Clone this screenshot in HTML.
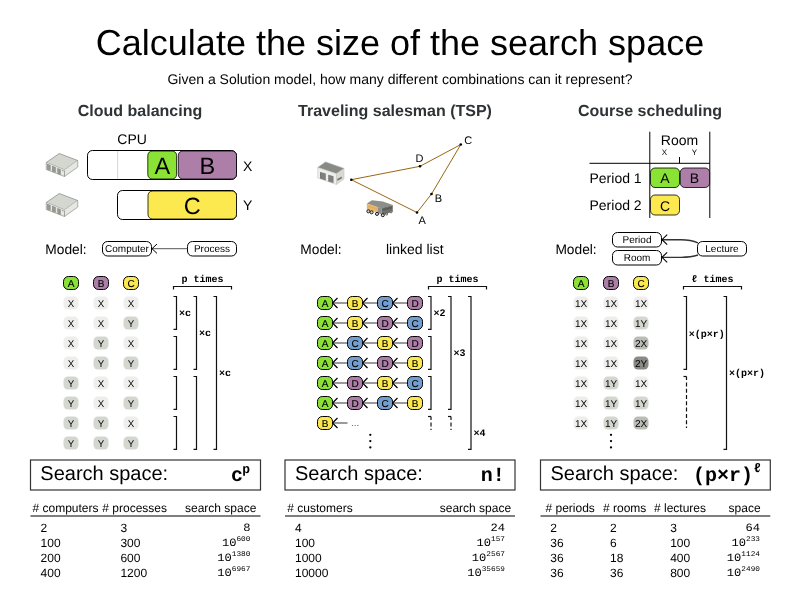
<!DOCTYPE html>
<html><head><meta charset="utf-8"><title>Search space</title>
<style>
html,body{margin:0;padding:0;background:#fff;width:800px;height:600px;overflow:hidden;font-family:"Liberation Sans",sans-serif;}
svg{display:block;position:absolute;left:0;top:0;will-change:transform;text-rendering:geometricPrecision;}
</style></head><body>
<svg width="800" height="600" viewBox="0 0 800 600">
<rect width="800" height="600" fill="#fff"/>
<text x="400" y="55.3" text-anchor="middle" font-family="&quot;Liberation Sans&quot;, sans-serif" font-size="36" fill="#000">Calculate the size of the search space</text>
<text x="400" y="84" text-anchor="middle" font-family="&quot;Liberation Sans&quot;, sans-serif" font-size="14" fill="#000">Given a Solution model, how many different combinations can it represent?</text>
<text x="140" y="115.5" text-anchor="middle" font-family="&quot;Liberation Sans&quot;, sans-serif" font-size="16" font-weight="bold" fill="#2e3436">Cloud balancing</text>
<text x="395" y="115.5" text-anchor="middle" font-family="&quot;Liberation Sans&quot;, sans-serif" font-size="16" font-weight="bold" fill="#2e3436">Traveling salesman (TSP)</text>
<text x="650" y="115.5" text-anchor="middle" font-family="&quot;Liberation Sans&quot;, sans-serif" font-size="16" font-weight="bold" fill="#2e3436">Course scheduling</text>
<text x="132.1" y="143.6" text-anchor="middle" font-family="&quot;Liberation Sans&quot;, sans-serif" font-size="14" fill="#000">CPU</text>
<g transform="translate(46,153)"><path d="M0.25,9.5 L13.25,0.5 L31.75,7.5 L18.5,17 Z" fill="#d3d7cf" stroke="#8f918c" stroke-width="0.8" stroke-linejoin="round"/><path d="M0.25,9.5 L18.5,17 L18.5,23.5 L0.25,16.5 Z" fill="#e4e6e1" stroke="#8f918c" stroke-width="0.7"/><path d="M1.25,10.51095890410959 L4.75,11.949315068493151 L4.75,17.94931506849315 L1.25,16.51095890410959 Z" fill="#a3a69f"/><path d="M1.65,10.91095890410959 L1.65,16.71095890410959 M3.15,11.51095890410959 L3.15,17.31095890410959" stroke="#7d7f7a" stroke-width="0.6"/><path d="M6.25,12.565753424657535 L10.0,14.106849315068493 L10.0,20.106849315068494 L6.25,18.565753424657537 Z" fill="#a3a69f"/><path d="M6.65,12.965753424657535 L6.65,18.765753424657536 M8.15,13.565753424657535 L8.15,19.365753424657534" stroke="#7d7f7a" stroke-width="0.6"/><path d="M11.5,14.723287671232876 L15.0,16.161643835616438 L15.0,22.161643835616438 L11.5,20.723287671232875 Z" fill="#a3a69f"/><path d="M11.9,15.123287671232877 L11.9,20.923287671232877 M13.4,15.723287671232876 L13.4,21.52328767123288" stroke="#7d7f7a" stroke-width="0.6"/><path d="M16.2,17.4 L17.6,17.9" stroke="#6f716c" stroke-width="0.8"/><path d="M18.5,17 L31.75,7.5 L31.75,14 L18.5,23.5 Z" fill="#e6e8e3" stroke="#8f918c" stroke-width="0.7" stroke-linejoin="round"/><path d="M0.9,10 L18.5,17.3 L31.1,8.2" fill="none" stroke="#f6f6f4" stroke-width="0.6"/></g>
<g transform="translate(46,193)"><path d="M0.25,9.5 L13.25,0.5 L31.75,7.5 L18.5,17 Z" fill="#d3d7cf" stroke="#8f918c" stroke-width="0.8" stroke-linejoin="round"/><path d="M0.25,9.5 L18.5,17 L18.5,23.5 L0.25,16.5 Z" fill="#e4e6e1" stroke="#8f918c" stroke-width="0.7"/><path d="M1.25,10.51095890410959 L4.75,11.949315068493151 L4.75,17.94931506849315 L1.25,16.51095890410959 Z" fill="#a3a69f"/><path d="M1.65,10.91095890410959 L1.65,16.71095890410959 M3.15,11.51095890410959 L3.15,17.31095890410959" stroke="#7d7f7a" stroke-width="0.6"/><path d="M6.25,12.565753424657535 L10.0,14.106849315068493 L10.0,20.106849315068494 L6.25,18.565753424657537 Z" fill="#a3a69f"/><path d="M6.65,12.965753424657535 L6.65,18.765753424657536 M8.15,13.565753424657535 L8.15,19.365753424657534" stroke="#7d7f7a" stroke-width="0.6"/><path d="M11.5,14.723287671232876 L15.0,16.161643835616438 L15.0,22.161643835616438 L11.5,20.723287671232875 Z" fill="#a3a69f"/><path d="M11.9,15.123287671232877 L11.9,20.923287671232877 M13.4,15.723287671232876 L13.4,21.52328767123288" stroke="#7d7f7a" stroke-width="0.6"/><path d="M16.2,17.4 L17.6,17.9" stroke="#6f716c" stroke-width="0.8"/><path d="M18.5,17 L31.75,7.5 L31.75,14 L18.5,23.5 Z" fill="#e6e8e3" stroke="#8f918c" stroke-width="0.7" stroke-linejoin="round"/><path d="M0.9,10 L18.5,17.3 L31.1,8.2" fill="none" stroke="#f6f6f4" stroke-width="0.6"/></g>
<rect x="87.5" y="150.5" width="149" height="29" rx="5" fill="#fff" stroke="#000" stroke-width="1"/>
<path d="M117.6,151 L117.6,179" stroke="#d3d7cf" stroke-width="1"/>
<rect x="147.8" y="151" width="28.8" height="28" rx="4.5" fill="#8ae234" stroke="#000" stroke-width="0.8"/>
<rect x="178.3" y="151" width="58.2" height="28" rx="4.5" fill="#ad7fa8" stroke="#000" stroke-width="0.8"/>
<text x="162.3" y="173.8" text-anchor="middle" font-family="&quot;Liberation Sans&quot;, sans-serif" font-size="23.5" fill="#000">A</text>
<text x="207.4" y="173.8" text-anchor="middle" font-family="&quot;Liberation Sans&quot;, sans-serif" font-size="23.5" fill="#000">B</text>
<text x="243" y="171" font-family="&quot;Liberation Sans&quot;, sans-serif" font-size="14" fill="#000">X</text>
<rect x="117.5" y="190.5" width="119" height="29" rx="5" fill="#fff" stroke="#000" stroke-width="1"/>
<rect x="148" y="191" width="88.5" height="28" rx="4.5" fill="#fce94f" stroke="#000" stroke-width="0.8"/>
<text x="192.3" y="213.8" text-anchor="middle" font-family="&quot;Liberation Sans&quot;, sans-serif" font-size="23.5" fill="#000">C</text>
<text x="243" y="210" font-family="&quot;Liberation Sans&quot;, sans-serif" font-size="14" fill="#000">Y</text>
<text x="45.3" y="253.9" font-family="&quot;Liberation Sans&quot;, sans-serif" font-size="13.75" fill="#000">Model:</text>
<rect x="102.5" y="241.5" width="49" height="14.5" rx="5" fill="#fff" stroke="#000" stroke-width="1"/><text x="127.0" y="252.35" text-anchor="middle" font-family="&quot;Liberation Sans&quot;, sans-serif" font-size="10" fill="#000">Computer</text>
<rect x="187.5" y="241.5" width="49" height="14.5" rx="5" fill="#fff" stroke="#000" stroke-width="1"/><text x="212.0" y="252.35" text-anchor="middle" font-family="&quot;Liberation Sans&quot;, sans-serif" font-size="10" fill="#000">Process</text>
<path d="M152,248.7 L187.5,248.7" stroke="#555" stroke-width="1"/>
<path d="M157,244 L152,248.7 L157,253.4" fill="none" stroke="#000" stroke-width="1"/>
<rect x="63.5" y="276.5" width="15" height="13" rx="5" fill="#8ae234" stroke="#000" stroke-width="1"/><text x="71" y="286.8" text-anchor="middle" font-family="&quot;Liberation Sans&quot;, sans-serif" font-size="10" fill="#000" stroke="#000" stroke-width="0.15">A</text>
<rect x="93.5" y="276.5" width="15" height="13" rx="5" fill="#ad7fa8" stroke="#000" stroke-width="1"/><text x="101" y="286.8" text-anchor="middle" font-family="&quot;Liberation Sans&quot;, sans-serif" font-size="10" fill="#000" stroke="#000" stroke-width="0.15">B</text>
<rect x="123.5" y="276.5" width="15" height="13" rx="5" fill="#fce94f" stroke="#000" stroke-width="1"/><text x="131" y="286.8" text-anchor="middle" font-family="&quot;Liberation Sans&quot;, sans-serif" font-size="10" fill="#000" stroke="#000" stroke-width="0.15">C</text>
<rect x="63.5" y="296.5" width="15" height="13" rx="4.5" fill="#eeeeec"/><text x="71" y="306.85" text-anchor="middle" font-family="&quot;Liberation Sans&quot;, sans-serif" font-size="9.7" fill="#000">X</text>
<rect x="93.5" y="296.5" width="15" height="13" rx="4.5" fill="#eeeeec"/><text x="101" y="306.85" text-anchor="middle" font-family="&quot;Liberation Sans&quot;, sans-serif" font-size="9.7" fill="#000">X</text>
<rect x="123.5" y="296.5" width="15" height="13" rx="4.5" fill="#eeeeec"/><text x="131" y="306.85" text-anchor="middle" font-family="&quot;Liberation Sans&quot;, sans-serif" font-size="9.7" fill="#000">X</text>
<rect x="63.5" y="316.5" width="15" height="13" rx="4.5" fill="#eeeeec"/><text x="71" y="326.85" text-anchor="middle" font-family="&quot;Liberation Sans&quot;, sans-serif" font-size="9.7" fill="#000">X</text>
<rect x="93.5" y="316.5" width="15" height="13" rx="4.5" fill="#eeeeec"/><text x="101" y="326.85" text-anchor="middle" font-family="&quot;Liberation Sans&quot;, sans-serif" font-size="9.7" fill="#000">X</text>
<rect x="123.5" y="316.5" width="15" height="13" rx="4.5" fill="#d3d7cf"/><text x="131" y="326.85" text-anchor="middle" font-family="&quot;Liberation Sans&quot;, sans-serif" font-size="9.7" fill="#000">Y</text>
<rect x="63.5" y="336.5" width="15" height="13" rx="4.5" fill="#eeeeec"/><text x="71" y="346.85" text-anchor="middle" font-family="&quot;Liberation Sans&quot;, sans-serif" font-size="9.7" fill="#000">X</text>
<rect x="93.5" y="336.5" width="15" height="13" rx="4.5" fill="#d3d7cf"/><text x="101" y="346.85" text-anchor="middle" font-family="&quot;Liberation Sans&quot;, sans-serif" font-size="9.7" fill="#000">Y</text>
<rect x="123.5" y="336.5" width="15" height="13" rx="4.5" fill="#eeeeec"/><text x="131" y="346.85" text-anchor="middle" font-family="&quot;Liberation Sans&quot;, sans-serif" font-size="9.7" fill="#000">X</text>
<rect x="63.5" y="356.5" width="15" height="13" rx="4.5" fill="#eeeeec"/><text x="71" y="366.85" text-anchor="middle" font-family="&quot;Liberation Sans&quot;, sans-serif" font-size="9.7" fill="#000">X</text>
<rect x="93.5" y="356.5" width="15" height="13" rx="4.5" fill="#d3d7cf"/><text x="101" y="366.85" text-anchor="middle" font-family="&quot;Liberation Sans&quot;, sans-serif" font-size="9.7" fill="#000">Y</text>
<rect x="123.5" y="356.5" width="15" height="13" rx="4.5" fill="#d3d7cf"/><text x="131" y="366.85" text-anchor="middle" font-family="&quot;Liberation Sans&quot;, sans-serif" font-size="9.7" fill="#000">Y</text>
<rect x="63.5" y="376.5" width="15" height="13" rx="4.5" fill="#d3d7cf"/><text x="71" y="386.85" text-anchor="middle" font-family="&quot;Liberation Sans&quot;, sans-serif" font-size="9.7" fill="#000">Y</text>
<rect x="93.5" y="376.5" width="15" height="13" rx="4.5" fill="#eeeeec"/><text x="101" y="386.85" text-anchor="middle" font-family="&quot;Liberation Sans&quot;, sans-serif" font-size="9.7" fill="#000">X</text>
<rect x="123.5" y="376.5" width="15" height="13" rx="4.5" fill="#eeeeec"/><text x="131" y="386.85" text-anchor="middle" font-family="&quot;Liberation Sans&quot;, sans-serif" font-size="9.7" fill="#000">X</text>
<rect x="63.5" y="396.5" width="15" height="13" rx="4.5" fill="#d3d7cf"/><text x="71" y="406.85" text-anchor="middle" font-family="&quot;Liberation Sans&quot;, sans-serif" font-size="9.7" fill="#000">Y</text>
<rect x="93.5" y="396.5" width="15" height="13" rx="4.5" fill="#eeeeec"/><text x="101" y="406.85" text-anchor="middle" font-family="&quot;Liberation Sans&quot;, sans-serif" font-size="9.7" fill="#000">X</text>
<rect x="123.5" y="396.5" width="15" height="13" rx="4.5" fill="#d3d7cf"/><text x="131" y="406.85" text-anchor="middle" font-family="&quot;Liberation Sans&quot;, sans-serif" font-size="9.7" fill="#000">Y</text>
<rect x="63.5" y="416.5" width="15" height="13" rx="4.5" fill="#d3d7cf"/><text x="71" y="426.85" text-anchor="middle" font-family="&quot;Liberation Sans&quot;, sans-serif" font-size="9.7" fill="#000">Y</text>
<rect x="93.5" y="416.5" width="15" height="13" rx="4.5" fill="#d3d7cf"/><text x="101" y="426.85" text-anchor="middle" font-family="&quot;Liberation Sans&quot;, sans-serif" font-size="9.7" fill="#000">Y</text>
<rect x="123.5" y="416.5" width="15" height="13" rx="4.5" fill="#eeeeec"/><text x="131" y="426.85" text-anchor="middle" font-family="&quot;Liberation Sans&quot;, sans-serif" font-size="9.7" fill="#000">X</text>
<rect x="63.5" y="436.5" width="15" height="13" rx="4.5" fill="#d3d7cf"/><text x="71" y="446.85" text-anchor="middle" font-family="&quot;Liberation Sans&quot;, sans-serif" font-size="9.7" fill="#000">Y</text>
<rect x="93.5" y="436.5" width="15" height="13" rx="4.5" fill="#d3d7cf"/><text x="101" y="446.85" text-anchor="middle" font-family="&quot;Liberation Sans&quot;, sans-serif" font-size="9.7" fill="#000">Y</text>
<rect x="123.5" y="436.5" width="15" height="13" rx="4.5" fill="#d3d7cf"/><text x="131" y="446.85" text-anchor="middle" font-family="&quot;Liberation Sans&quot;, sans-serif" font-size="9.7" fill="#000">Y</text>
<text x="202.5" y="282" text-anchor="middle" font-family="&quot;Liberation Mono&quot;, monospace" font-size="10" font-weight="bold" fill="#000">p times</text>
<path d="M173.5,289.5 L173.5,286.5 L231.5,286.5 L231.5,289.5" fill="none" stroke="#111" stroke-width="1.2"/>
<path d="M173.5,296.5 L176.5,296.5 L176.5,329.4 L173.5,329.4" fill="none" stroke="#111" stroke-width="1.2"/>
<path d="M173.5,336.5 L176.5,336.5 L176.5,369.4 L173.5,369.4" fill="none" stroke="#111" stroke-width="1.2"/>
<path d="M173.5,376.5 L176.5,376.5 L176.5,409.4 L173.5,409.4" fill="none" stroke="#111" stroke-width="1.2"/>
<path d="M173.5,416.5 L176.5,416.5 L176.5,449.4 L173.5,449.4" fill="none" stroke="#111" stroke-width="1.2"/>
<path d="M193.5,296.5 L196.5,296.5 L196.5,369.4 L193.5,369.4" fill="none" stroke="#111" stroke-width="1.2"/>
<path d="M193.5,376.5 L196.5,376.5 L196.5,449.4 L193.5,449.4" fill="none" stroke="#111" stroke-width="1.2"/>
<path d="M213.5,296.5 L216.5,296.5 L216.5,449.4 L213.5,449.4" fill="none" stroke="#111" stroke-width="1.2"/>
<text x="185" y="316" text-anchor="middle" font-family="&quot;Liberation Mono&quot;, monospace" font-size="10" font-weight="bold" fill="#000">×c</text>
<text x="205" y="336" text-anchor="middle" font-family="&quot;Liberation Mono&quot;, monospace" font-size="10" font-weight="bold" fill="#000">×c</text>
<text x="225" y="376" text-anchor="middle" font-family="&quot;Liberation Mono&quot;, monospace" font-size="10" font-weight="bold" fill="#000">×c</text>
<g transform="translate(317,162)"><path d="M0.75,5.5 L8.5,0 L27,6.5 L19.5,11.75 Z" fill="#888a85" stroke="#9fa29c" stroke-width="0.6" stroke-linejoin="round"/><path d="M0.75,5.5 L19.5,11.75 L19.5,22.5 L0.75,16 Z" fill="#eeeeec" stroke="#c4c7c0" stroke-width="0.6"/><path d="M19.5,11.75 L27,6.5 L27,17 L19.5,22.5 Z" fill="#d8dbd4" stroke="#c4c7c0" stroke-width="0.6"/><path d="M3,10 L8.75,11.5 L8.75,18.5 L3,16.5 Z" fill="#757772"/><path d="M11.25,12.75 L16.5,14.25 L16.5,21 L11.25,19.5 Z" fill="#757772"/><path d="M5,10.6 L5,17.2 M7,11.1 L7,17.9 M13.2,13.3 L13.2,20 M15,13.8 L15,20.5" stroke="#9a9c97" stroke-width="0.5"/><path d="M20.25,17 L24.75,14.5 L24.75,16.5 L20.25,18.75 Z" fill="#6f716c"/></g>
<g transform="translate(366,200)"><path d="M0.8,3.4 L6,0.2 L16.8,1.4 L26.8,5 L15.6,8.2 L11.6,7.2 Z" fill="#8d8f8a"/><path d="M0.8,3.6 L11.6,7 L11.6,12.6 L0.8,9.8 Z" fill="#eab76a"/><path d="M1.5,6 L11,8.8" stroke="#d9a75c" stroke-width="0.8"/><path d="M11.6,7 L15.6,8.1 L15.6,14.8 L11.6,12.6 Z" fill="#8d8f8a"/><path d="M15.6,8.1 L26.8,5 L26.8,11.6 L15.6,15.6 Z" fill="#6f716c"/><path d="M16.5,9 L26,6.4 L26,8.4 L16.5,11 Z" fill="#5a5c58"/><circle cx="2.4" cy="11.3" r="1.55" fill="#d3d7cf" stroke="#1e1e1e" stroke-width="1"/><circle cx="5.6" cy="12.3" r="1.55" fill="#d3d7cf" stroke="#1e1e1e" stroke-width="1"/><circle cx="11" cy="13.9" r="1.55" fill="#d3d7cf" stroke="#1e1e1e" stroke-width="1"/><circle cx="16.8" cy="15.2" r="1.55" fill="#d3d7cf" stroke="#1e1e1e" stroke-width="1"/><circle cx="20.6" cy="14" r="1.1" fill="#d3d7cf" stroke="#3a3a3a" stroke-width="0.7"/><circle cx="25" cy="11.8" r="1.1" fill="#d3d7cf" stroke="#3a3a3a" stroke-width="0.7"/></g>
<path d="M351.3,179.7 L420,166.3 L460.8,144.5 L431.5,194 L417,212.5 Z" fill="none" stroke="#9a6612" stroke-width="1"/>
<circle cx="351.3" cy="179.7" r="1.3" fill="#000"/>
<circle cx="420" cy="166.3" r="1.3" fill="#000"/>
<circle cx="460.8" cy="144.5" r="1.3" fill="#000"/>
<circle cx="431.5" cy="194" r="1.3" fill="#000"/>
<circle cx="417" cy="212.5" r="1.3" fill="#000"/>
<text x="464.2" y="144.4" font-family="&quot;Liberation Sans&quot;, sans-serif" font-size="11" fill="#000">C</text>
<text x="415.5" y="162" font-family="&quot;Liberation Sans&quot;, sans-serif" font-size="11" fill="#000">D</text>
<text x="434.8" y="201.5" font-family="&quot;Liberation Sans&quot;, sans-serif" font-size="11" fill="#000">B</text>
<text x="418.5" y="224" font-family="&quot;Liberation Sans&quot;, sans-serif" font-size="11" fill="#000">A</text>
<text x="300.3" y="253.9" font-family="&quot;Liberation Sans&quot;, sans-serif" font-size="13.75" fill="#000">Model:</text>
<text x="386" y="254" font-family="&quot;Liberation Sans&quot;, sans-serif" font-size="14" fill="#000">linked list</text>
<path d="M332.5,303 L347.5,303" stroke="#808080" stroke-width="1.6"/><path d="M337.5,298 L332.5,303 L337.5,308" fill="none" stroke="#000" stroke-width="1.2"/>
<path d="M362.5,303 L377.5,303" stroke="#808080" stroke-width="1.6"/><path d="M367.5,298 L362.5,303 L367.5,308" fill="none" stroke="#000" stroke-width="1.2"/>
<path d="M392.5,303 L407.5,303" stroke="#808080" stroke-width="1.6"/><path d="M397.5,298 L392.5,303 L397.5,308" fill="none" stroke="#000" stroke-width="1.2"/>
<rect x="317.5" y="296.5" width="15" height="13" rx="4.8" fill="#8ae234" stroke="#000" stroke-width="1"/><text x="325" y="306.8" text-anchor="middle" font-family="&quot;Liberation Sans&quot;, sans-serif" font-size="10" fill="#000" stroke="#000" stroke-width="0.15">A</text>
<rect x="347.5" y="296.5" width="15" height="13" rx="4.8" fill="#fce94f" stroke="#000" stroke-width="1"/><text x="355" y="306.8" text-anchor="middle" font-family="&quot;Liberation Sans&quot;, sans-serif" font-size="10" fill="#000" stroke="#000" stroke-width="0.15">B</text>
<rect x="377.5" y="296.5" width="15" height="13" rx="4.8" fill="#729fcf" stroke="#000" stroke-width="1"/><text x="385" y="306.8" text-anchor="middle" font-family="&quot;Liberation Sans&quot;, sans-serif" font-size="10" fill="#000" stroke="#000" stroke-width="0.15">C</text>
<rect x="407.5" y="296.5" width="15" height="13" rx="4.8" fill="#ad7fa8" stroke="#000" stroke-width="1"/><text x="415" y="306.8" text-anchor="middle" font-family="&quot;Liberation Sans&quot;, sans-serif" font-size="10" fill="#000" stroke="#000" stroke-width="0.15">D</text>
<path d="M332.5,323 L347.5,323" stroke="#808080" stroke-width="1.6"/><path d="M337.5,318 L332.5,323 L337.5,328" fill="none" stroke="#000" stroke-width="1.2"/>
<path d="M362.5,323 L377.5,323" stroke="#808080" stroke-width="1.6"/><path d="M367.5,318 L362.5,323 L367.5,328" fill="none" stroke="#000" stroke-width="1.2"/>
<path d="M392.5,323 L407.5,323" stroke="#808080" stroke-width="1.6"/><path d="M397.5,318 L392.5,323 L397.5,328" fill="none" stroke="#000" stroke-width="1.2"/>
<rect x="317.5" y="316.5" width="15" height="13" rx="4.8" fill="#8ae234" stroke="#000" stroke-width="1"/><text x="325" y="326.8" text-anchor="middle" font-family="&quot;Liberation Sans&quot;, sans-serif" font-size="10" fill="#000" stroke="#000" stroke-width="0.15">A</text>
<rect x="347.5" y="316.5" width="15" height="13" rx="4.8" fill="#fce94f" stroke="#000" stroke-width="1"/><text x="355" y="326.8" text-anchor="middle" font-family="&quot;Liberation Sans&quot;, sans-serif" font-size="10" fill="#000" stroke="#000" stroke-width="0.15">B</text>
<rect x="377.5" y="316.5" width="15" height="13" rx="4.8" fill="#ad7fa8" stroke="#000" stroke-width="1"/><text x="385" y="326.8" text-anchor="middle" font-family="&quot;Liberation Sans&quot;, sans-serif" font-size="10" fill="#000" stroke="#000" stroke-width="0.15">D</text>
<rect x="407.5" y="316.5" width="15" height="13" rx="4.8" fill="#729fcf" stroke="#000" stroke-width="1"/><text x="415" y="326.8" text-anchor="middle" font-family="&quot;Liberation Sans&quot;, sans-serif" font-size="10" fill="#000" stroke="#000" stroke-width="0.15">C</text>
<path d="M332.5,343 L347.5,343" stroke="#808080" stroke-width="1.6"/><path d="M337.5,338 L332.5,343 L337.5,348" fill="none" stroke="#000" stroke-width="1.2"/>
<path d="M362.5,343 L377.5,343" stroke="#808080" stroke-width="1.6"/><path d="M367.5,338 L362.5,343 L367.5,348" fill="none" stroke="#000" stroke-width="1.2"/>
<path d="M392.5,343 L407.5,343" stroke="#808080" stroke-width="1.6"/><path d="M397.5,338 L392.5,343 L397.5,348" fill="none" stroke="#000" stroke-width="1.2"/>
<rect x="317.5" y="336.5" width="15" height="13" rx="4.8" fill="#8ae234" stroke="#000" stroke-width="1"/><text x="325" y="346.8" text-anchor="middle" font-family="&quot;Liberation Sans&quot;, sans-serif" font-size="10" fill="#000" stroke="#000" stroke-width="0.15">A</text>
<rect x="347.5" y="336.5" width="15" height="13" rx="4.8" fill="#729fcf" stroke="#000" stroke-width="1"/><text x="355" y="346.8" text-anchor="middle" font-family="&quot;Liberation Sans&quot;, sans-serif" font-size="10" fill="#000" stroke="#000" stroke-width="0.15">C</text>
<rect x="377.5" y="336.5" width="15" height="13" rx="4.8" fill="#fce94f" stroke="#000" stroke-width="1"/><text x="385" y="346.8" text-anchor="middle" font-family="&quot;Liberation Sans&quot;, sans-serif" font-size="10" fill="#000" stroke="#000" stroke-width="0.15">B</text>
<rect x="407.5" y="336.5" width="15" height="13" rx="4.8" fill="#ad7fa8" stroke="#000" stroke-width="1"/><text x="415" y="346.8" text-anchor="middle" font-family="&quot;Liberation Sans&quot;, sans-serif" font-size="10" fill="#000" stroke="#000" stroke-width="0.15">D</text>
<path d="M332.5,363 L347.5,363" stroke="#808080" stroke-width="1.6"/><path d="M337.5,358 L332.5,363 L337.5,368" fill="none" stroke="#000" stroke-width="1.2"/>
<path d="M362.5,363 L377.5,363" stroke="#808080" stroke-width="1.6"/><path d="M367.5,358 L362.5,363 L367.5,368" fill="none" stroke="#000" stroke-width="1.2"/>
<path d="M392.5,363 L407.5,363" stroke="#808080" stroke-width="1.6"/><path d="M397.5,358 L392.5,363 L397.5,368" fill="none" stroke="#000" stroke-width="1.2"/>
<rect x="317.5" y="356.5" width="15" height="13" rx="4.8" fill="#8ae234" stroke="#000" stroke-width="1"/><text x="325" y="366.8" text-anchor="middle" font-family="&quot;Liberation Sans&quot;, sans-serif" font-size="10" fill="#000" stroke="#000" stroke-width="0.15">A</text>
<rect x="347.5" y="356.5" width="15" height="13" rx="4.8" fill="#729fcf" stroke="#000" stroke-width="1"/><text x="355" y="366.8" text-anchor="middle" font-family="&quot;Liberation Sans&quot;, sans-serif" font-size="10" fill="#000" stroke="#000" stroke-width="0.15">C</text>
<rect x="377.5" y="356.5" width="15" height="13" rx="4.8" fill="#ad7fa8" stroke="#000" stroke-width="1"/><text x="385" y="366.8" text-anchor="middle" font-family="&quot;Liberation Sans&quot;, sans-serif" font-size="10" fill="#000" stroke="#000" stroke-width="0.15">D</text>
<rect x="407.5" y="356.5" width="15" height="13" rx="4.8" fill="#fce94f" stroke="#000" stroke-width="1"/><text x="415" y="366.8" text-anchor="middle" font-family="&quot;Liberation Sans&quot;, sans-serif" font-size="10" fill="#000" stroke="#000" stroke-width="0.15">B</text>
<path d="M332.5,383 L347.5,383" stroke="#808080" stroke-width="1.6"/><path d="M337.5,378 L332.5,383 L337.5,388" fill="none" stroke="#000" stroke-width="1.2"/>
<path d="M362.5,383 L377.5,383" stroke="#808080" stroke-width="1.6"/><path d="M367.5,378 L362.5,383 L367.5,388" fill="none" stroke="#000" stroke-width="1.2"/>
<path d="M392.5,383 L407.5,383" stroke="#808080" stroke-width="1.6"/><path d="M397.5,378 L392.5,383 L397.5,388" fill="none" stroke="#000" stroke-width="1.2"/>
<rect x="317.5" y="376.5" width="15" height="13" rx="4.8" fill="#8ae234" stroke="#000" stroke-width="1"/><text x="325" y="386.8" text-anchor="middle" font-family="&quot;Liberation Sans&quot;, sans-serif" font-size="10" fill="#000" stroke="#000" stroke-width="0.15">A</text>
<rect x="347.5" y="376.5" width="15" height="13" rx="4.8" fill="#ad7fa8" stroke="#000" stroke-width="1"/><text x="355" y="386.8" text-anchor="middle" font-family="&quot;Liberation Sans&quot;, sans-serif" font-size="10" fill="#000" stroke="#000" stroke-width="0.15">D</text>
<rect x="377.5" y="376.5" width="15" height="13" rx="4.8" fill="#fce94f" stroke="#000" stroke-width="1"/><text x="385" y="386.8" text-anchor="middle" font-family="&quot;Liberation Sans&quot;, sans-serif" font-size="10" fill="#000" stroke="#000" stroke-width="0.15">B</text>
<rect x="407.5" y="376.5" width="15" height="13" rx="4.8" fill="#729fcf" stroke="#000" stroke-width="1"/><text x="415" y="386.8" text-anchor="middle" font-family="&quot;Liberation Sans&quot;, sans-serif" font-size="10" fill="#000" stroke="#000" stroke-width="0.15">C</text>
<path d="M332.5,403 L347.5,403" stroke="#808080" stroke-width="1.6"/><path d="M337.5,398 L332.5,403 L337.5,408" fill="none" stroke="#000" stroke-width="1.2"/>
<path d="M362.5,403 L377.5,403" stroke="#808080" stroke-width="1.6"/><path d="M367.5,398 L362.5,403 L367.5,408" fill="none" stroke="#000" stroke-width="1.2"/>
<path d="M392.5,403 L407.5,403" stroke="#808080" stroke-width="1.6"/><path d="M397.5,398 L392.5,403 L397.5,408" fill="none" stroke="#000" stroke-width="1.2"/>
<rect x="317.5" y="396.5" width="15" height="13" rx="4.8" fill="#8ae234" stroke="#000" stroke-width="1"/><text x="325" y="406.8" text-anchor="middle" font-family="&quot;Liberation Sans&quot;, sans-serif" font-size="10" fill="#000" stroke="#000" stroke-width="0.15">A</text>
<rect x="347.5" y="396.5" width="15" height="13" rx="4.8" fill="#ad7fa8" stroke="#000" stroke-width="1"/><text x="355" y="406.8" text-anchor="middle" font-family="&quot;Liberation Sans&quot;, sans-serif" font-size="10" fill="#000" stroke="#000" stroke-width="0.15">D</text>
<rect x="377.5" y="396.5" width="15" height="13" rx="4.8" fill="#729fcf" stroke="#000" stroke-width="1"/><text x="385" y="406.8" text-anchor="middle" font-family="&quot;Liberation Sans&quot;, sans-serif" font-size="10" fill="#000" stroke="#000" stroke-width="0.15">C</text>
<rect x="407.5" y="396.5" width="15" height="13" rx="4.8" fill="#fce94f" stroke="#000" stroke-width="1"/><text x="415" y="406.8" text-anchor="middle" font-family="&quot;Liberation Sans&quot;, sans-serif" font-size="10" fill="#000" stroke="#000" stroke-width="0.15">B</text>
<path d="M332.5,423 L347.5,423" stroke="#808080" stroke-width="1.6"/><path d="M337.5,418 L332.5,423 L337.5,428" fill="none" stroke="#000" stroke-width="1.2"/>
<rect x="317.5" y="416.5" width="15" height="13" rx="4.8" fill="#fce94f" stroke="#000" stroke-width="1"/><text x="325" y="426.8" text-anchor="middle" font-family="&quot;Liberation Sans&quot;, sans-serif" font-size="10" fill="#000" stroke="#000" stroke-width="0.15">B</text>
<text x="355.2" y="426.4" text-anchor="middle" font-family="&quot;Liberation Sans&quot;, sans-serif" font-size="10" fill="#555">...</text>
<circle cx="370.3" cy="434.8" r="1.15" fill="#000"/>
<circle cx="370.3" cy="441.1" r="1.15" fill="#000"/>
<circle cx="370.3" cy="447.4" r="1.15" fill="#000"/>
<text x="457.5" y="282" text-anchor="middle" font-family="&quot;Liberation Mono&quot;, monospace" font-size="10" font-weight="bold" fill="#000">p times</text>
<path d="M428.5,289.5 L428.5,286.5 L486.5,286.5 L486.5,289.5" fill="none" stroke="#111" stroke-width="1.2"/>
<path d="M428,296.5 L431,296.5 L431,329.4 L428,329.4" fill="none" stroke="#111" stroke-width="1.2"/>
<path d="M428,336.5 L431,336.5 L431,369.4 L428,369.4" fill="none" stroke="#111" stroke-width="1.2"/>
<path d="M428,376.5 L431,376.5 L431,409.4 L428,409.4" fill="none" stroke="#111" stroke-width="1.2"/>
<path d="M428,416.5 L431,416.5" fill="none" stroke="#111" stroke-width="1.2"/><path d="M431,416.5 L431,430" fill="none" stroke="#111" stroke-width="1.2" stroke-dasharray="4,2.3" stroke-dashoffset="0.4"/>
<path d="M448,296.5 L451,296.5 L451,409.4 L448,409.4" fill="none" stroke="#111" stroke-width="1.2"/>
<path d="M448,416.5 L451,416.5" fill="none" stroke="#111" stroke-width="1.2"/><path d="M451,416.5 L451,430" fill="none" stroke="#111" stroke-width="1.2" stroke-dasharray="4,2.3" stroke-dashoffset="0.4"/>
<path d="M468,296.5 L471,296.5 L471,449.4 L468,449.4" fill="none" stroke="#111" stroke-width="1.2"/>
<text x="439.5" y="316" text-anchor="middle" font-family="&quot;Liberation Mono&quot;, monospace" font-size="10" font-weight="bold" fill="#000">×2</text>
<text x="459.5" y="356" text-anchor="middle" font-family="&quot;Liberation Mono&quot;, monospace" font-size="10" font-weight="bold" fill="#000">×3</text>
<text x="479.5" y="436" text-anchor="middle" font-family="&quot;Liberation Mono&quot;, monospace" font-size="10" font-weight="bold" fill="#000">×4</text>
<path d="M649.8,131.7 L649.8,218 M709.8,131.7 L709.8,218 M589.5,163.3 L709.8,163.3 M679.5,157 L679.5,163.3" stroke="#000" stroke-width="1" fill="none"/>
<text x="679.5" y="144.8" text-anchor="middle" font-family="&quot;Liberation Sans&quot;, sans-serif" font-size="14" fill="#000">Room</text>
<text x="664.5" y="154.6" text-anchor="middle" font-family="&quot;Liberation Sans&quot;, sans-serif" font-size="8" fill="#000">X</text>
<text x="694.5" y="154.6" text-anchor="middle" font-family="&quot;Liberation Sans&quot;, sans-serif" font-size="8" fill="#000">Y</text>
<rect x="650.5" y="168" width="29" height="19.5" rx="4.5" fill="#8ae234" stroke="#000" stroke-width="0.8"/>
<rect x="680.3" y="168" width="29.3" height="19.5" rx="4.5" fill="#ad7fa8" stroke="#000" stroke-width="0.8"/>
<rect x="650.5" y="195" width="29" height="20" rx="4.5" fill="#fce94f" stroke="#000" stroke-width="0.8"/>
<text x="665" y="183.3" text-anchor="middle" font-family="&quot;Liberation Sans&quot;, sans-serif" font-size="14" fill="#000">A</text>
<text x="694.5" y="183.3" text-anchor="middle" font-family="&quot;Liberation Sans&quot;, sans-serif" font-size="14" fill="#000">B</text>
<text x="665" y="210.7" text-anchor="middle" font-family="&quot;Liberation Sans&quot;, sans-serif" font-size="14" fill="#000">C</text>
<text x="589.5" y="183.3" font-family="&quot;Liberation Sans&quot;, sans-serif" font-size="14" fill="#000">Period 1</text>
<text x="589.5" y="210.4" font-family="&quot;Liberation Sans&quot;, sans-serif" font-size="14" fill="#000">Period 2</text>
<text x="555.4" y="253.9" font-family="&quot;Liberation Sans&quot;, sans-serif" font-size="13.75" fill="#000">Model:</text>
<rect x="612.5" y="232.5" width="49" height="14.5" rx="5" fill="#fff" stroke="#000" stroke-width="1"/><text x="637.0" y="243.35" text-anchor="middle" font-family="&quot;Liberation Sans&quot;, sans-serif" font-size="10" fill="#000">Period</text>
<rect x="612.5" y="250.5" width="49" height="14.5" rx="5" fill="#fff" stroke="#000" stroke-width="1"/><text x="637.0" y="261.35" text-anchor="middle" font-family="&quot;Liberation Sans&quot;, sans-serif" font-size="10" fill="#000">Room</text>
<rect x="697.5" y="241.5" width="49" height="14.5" rx="5" fill="#fff" stroke="#000" stroke-width="1"/><text x="722.0" y="252.35" text-anchor="middle" font-family="&quot;Liberation Sans&quot;, sans-serif" font-size="10" fill="#000">Lecture</text>
<path d="M698,242.8 C692,240.2 688,239.7 681,239.7 L662,239.7 M698,255 C692,257 688,257.3 681,257.3 L662,257.3" stroke="#333" stroke-width="1.35" fill="none"/>
<path d="M667.2,234.7 L662,239.7 L667.2,244.7 M667.2,252.3 L662,257.3 L667.2,262.3" fill="none" stroke="#000" stroke-width="1.1"/>
<rect x="573.5" y="276.5" width="15" height="13" rx="5" fill="#8ae234" stroke="#000" stroke-width="1"/><text x="581" y="286.8" text-anchor="middle" font-family="&quot;Liberation Sans&quot;, sans-serif" font-size="10" fill="#000" stroke="#000" stroke-width="0.15">A</text>
<rect x="603.5" y="276.5" width="15" height="13" rx="5" fill="#ad7fa8" stroke="#000" stroke-width="1"/><text x="611" y="286.8" text-anchor="middle" font-family="&quot;Liberation Sans&quot;, sans-serif" font-size="10" fill="#000" stroke="#000" stroke-width="0.15">B</text>
<rect x="633.5" y="276.5" width="15" height="13" rx="5" fill="#fce94f" stroke="#000" stroke-width="1"/><text x="641" y="286.8" text-anchor="middle" font-family="&quot;Liberation Sans&quot;, sans-serif" font-size="10" fill="#000" stroke="#000" stroke-width="0.15">C</text>
<rect x="573.5" y="296.5" width="15" height="13" rx="4.5" fill="#eeeeec"/><text x="581" y="306.85" text-anchor="middle" font-family="&quot;Liberation Sans&quot;, sans-serif" font-size="10" fill="#000">1X</text>
<rect x="603.5" y="296.5" width="15" height="13" rx="4.5" fill="#eeeeec"/><text x="611" y="306.85" text-anchor="middle" font-family="&quot;Liberation Sans&quot;, sans-serif" font-size="10" fill="#000">1X</text>
<rect x="633.5" y="296.5" width="15" height="13" rx="4.5" fill="#eeeeec"/><text x="641" y="306.85" text-anchor="middle" font-family="&quot;Liberation Sans&quot;, sans-serif" font-size="10" fill="#000">1X</text>
<rect x="573.5" y="316.5" width="15" height="13" rx="4.5" fill="#eeeeec"/><text x="581" y="326.85" text-anchor="middle" font-family="&quot;Liberation Sans&quot;, sans-serif" font-size="10" fill="#000">1X</text>
<rect x="603.5" y="316.5" width="15" height="13" rx="4.5" fill="#eeeeec"/><text x="611" y="326.85" text-anchor="middle" font-family="&quot;Liberation Sans&quot;, sans-serif" font-size="10" fill="#000">1X</text>
<rect x="633.5" y="316.5" width="15" height="13" rx="4.5" fill="#d3d7cf"/><text x="641" y="326.85" text-anchor="middle" font-family="&quot;Liberation Sans&quot;, sans-serif" font-size="10" fill="#000">1Y</text>
<rect x="573.5" y="336.5" width="15" height="13" rx="4.5" fill="#eeeeec"/><text x="581" y="346.85" text-anchor="middle" font-family="&quot;Liberation Sans&quot;, sans-serif" font-size="10" fill="#000">1X</text>
<rect x="603.5" y="336.5" width="15" height="13" rx="4.5" fill="#eeeeec"/><text x="611" y="346.85" text-anchor="middle" font-family="&quot;Liberation Sans&quot;, sans-serif" font-size="10" fill="#000">1X</text>
<rect x="633.5" y="336.5" width="15" height="13" rx="4.5" fill="#babdb6"/><text x="641" y="346.85" text-anchor="middle" font-family="&quot;Liberation Sans&quot;, sans-serif" font-size="10" fill="#000">2X</text>
<rect x="573.5" y="356.5" width="15" height="13" rx="4.5" fill="#eeeeec"/><text x="581" y="366.85" text-anchor="middle" font-family="&quot;Liberation Sans&quot;, sans-serif" font-size="10" fill="#000">1X</text>
<rect x="603.5" y="356.5" width="15" height="13" rx="4.5" fill="#eeeeec"/><text x="611" y="366.85" text-anchor="middle" font-family="&quot;Liberation Sans&quot;, sans-serif" font-size="10" fill="#000">1X</text>
<rect x="633.5" y="356.5" width="15" height="13" rx="4.5" fill="#888a85"/><text x="641" y="366.85" text-anchor="middle" font-family="&quot;Liberation Sans&quot;, sans-serif" font-size="10" fill="#000">2Y</text>
<rect x="573.5" y="376.5" width="15" height="13" rx="4.5" fill="#eeeeec"/><text x="581" y="386.85" text-anchor="middle" font-family="&quot;Liberation Sans&quot;, sans-serif" font-size="10" fill="#000">1X</text>
<rect x="603.5" y="376.5" width="15" height="13" rx="4.5" fill="#d3d7cf"/><text x="611" y="386.85" text-anchor="middle" font-family="&quot;Liberation Sans&quot;, sans-serif" font-size="10" fill="#000">1Y</text>
<rect x="633.5" y="376.5" width="15" height="13" rx="4.5" fill="#eeeeec"/><text x="641" y="386.85" text-anchor="middle" font-family="&quot;Liberation Sans&quot;, sans-serif" font-size="10" fill="#000">1X</text>
<rect x="573.5" y="396.5" width="15" height="13" rx="4.5" fill="#eeeeec"/><text x="581" y="406.85" text-anchor="middle" font-family="&quot;Liberation Sans&quot;, sans-serif" font-size="10" fill="#000">1X</text>
<rect x="603.5" y="396.5" width="15" height="13" rx="4.5" fill="#d3d7cf"/><text x="611" y="406.85" text-anchor="middle" font-family="&quot;Liberation Sans&quot;, sans-serif" font-size="10" fill="#000">1Y</text>
<rect x="633.5" y="396.5" width="15" height="13" rx="4.5" fill="#d3d7cf"/><text x="641" y="406.85" text-anchor="middle" font-family="&quot;Liberation Sans&quot;, sans-serif" font-size="10" fill="#000">1Y</text>
<rect x="573.5" y="416.5" width="15" height="13" rx="4.5" fill="#eeeeec"/><text x="581" y="426.85" text-anchor="middle" font-family="&quot;Liberation Sans&quot;, sans-serif" font-size="10" fill="#000">1X</text>
<rect x="603.5" y="416.5" width="15" height="13" rx="4.5" fill="#d3d7cf"/><text x="611" y="426.85" text-anchor="middle" font-family="&quot;Liberation Sans&quot;, sans-serif" font-size="10" fill="#000">1Y</text>
<rect x="633.5" y="416.5" width="15" height="13" rx="4.5" fill="#babdb6"/><text x="641" y="426.85" text-anchor="middle" font-family="&quot;Liberation Sans&quot;, sans-serif" font-size="10" fill="#000">2X</text>
<circle cx="611" cy="434.8" r="1.15" fill="#000"/>
<circle cx="611" cy="441.1" r="1.15" fill="#000"/>
<circle cx="611" cy="447.4" r="1.15" fill="#000"/>
<text x="712.5" y="282" text-anchor="middle" font-family="&quot;Liberation Mono&quot;, monospace" font-size="10" font-weight="bold" fill="#000">ℓ times</text>
<path d="M683.5,289.5 L683.5,286.5 L741.5,286.5 L741.5,289.5" fill="none" stroke="#111" stroke-width="1.2"/>
<path d="M683.5,296.5 L686.5,296.5 L686.5,369.4 L683.5,369.4" fill="none" stroke="#111" stroke-width="1.2"/>
<path d="M683.5,376.5 L686.5,376.5" fill="none" stroke="#111" stroke-width="1.2"/><path d="M686.5,376.5 L686.5,428" fill="none" stroke="#111" stroke-width="1.2" stroke-dasharray="4,2.3" stroke-dashoffset="0.4"/>
<path d="M723.5,296.5 L726.5,296.5 L726.5,449.4 L723.5,449.4" fill="none" stroke="#111" stroke-width="1.2"/>
<text x="706.8" y="336.5" text-anchor="middle" font-family="&quot;Liberation Mono&quot;, monospace" font-size="10" font-weight="bold" fill="#000">×(p×r)</text>
<text x="747" y="376" text-anchor="middle" font-family="&quot;Liberation Mono&quot;, monospace" font-size="10" font-weight="bold" fill="#000">×(p×r)</text>
<rect x="30.5" y="460" width="230.0" height="30" fill="#fff" stroke="#333" stroke-width="1.2"/>
<rect x="285" y="460" width="230" height="30" fill="#fff" stroke="#333" stroke-width="1.2"/>
<rect x="540.5" y="460" width="229.79999999999995" height="30" fill="#fff" stroke="#333" stroke-width="1.2"/>
<text x="40.3" y="480.3" font-family="&quot;Liberation Sans&quot;, sans-serif" font-size="20" fill="#000">Search space:</text>
<text x="295" y="480.3" font-family="&quot;Liberation Sans&quot;, sans-serif" font-size="20" fill="#000">Search space:</text>
<text x="550.5" y="480.3" font-family="&quot;Liberation Sans&quot;, sans-serif" font-size="20" fill="#000">Search space:</text>
<text x="231.2" y="481" font-family="&quot;Liberation Sans&quot;, sans-serif" font-size="20" font-weight="bold" fill="#000">c</text>
<text x="242.2" y="472.6" font-family="&quot;Liberation Mono&quot;, monospace" font-size="13" font-weight="bold" fill="#000">p</text>
<text x="480.8" y="480.5" font-family="&quot;Liberation Mono&quot;, monospace" font-size="20" font-weight="bold" fill="#000">n!</text>
<text x="693" y="480.7" font-family="&quot;Liberation Mono&quot;, monospace" font-size="20" font-weight="bold" fill="#000">(p×r)</text>
<text x="753.6" y="472.3" font-family="&quot;Liberation Mono&quot;, monospace" font-size="13" font-weight="bold" fill="#000">ℓ</text>
<path d="M30.5,516 L260.5,516" stroke="#555" stroke-width="1.6"/>
<path d="M285,516 L515,516" stroke="#555" stroke-width="1.6"/>
<path d="M540.5,516 L770.3,516" stroke="#555" stroke-width="1.6"/>
<text x="32.5" y="511.9" text-anchor="start" font-family="&quot;Liberation Sans&quot;, sans-serif" font-size="12" fill="#000"># computers</text>
<text x="102.3" y="511.9" text-anchor="start" font-family="&quot;Liberation Sans&quot;, sans-serif" font-size="12" fill="#000"># processes</text>
<text x="256.4" y="511.9" text-anchor="end" font-family="&quot;Liberation Sans&quot;, sans-serif" font-size="12" fill="#000">search space</text>
<text x="40.6" y="532" text-anchor="start" font-family="&quot;Liberation Sans&quot;, sans-serif" font-size="12" fill="#000">2</text>
<text x="120.4" y="532" text-anchor="start" font-family="&quot;Liberation Sans&quot;, sans-serif" font-size="12" fill="#000">3</text>
<text x="40.6" y="547" text-anchor="start" font-family="&quot;Liberation Sans&quot;, sans-serif" font-size="12" fill="#000">100</text>
<text x="120.4" y="547" text-anchor="start" font-family="&quot;Liberation Sans&quot;, sans-serif" font-size="12" fill="#000">300</text>
<text x="40.6" y="562" text-anchor="start" font-family="&quot;Liberation Sans&quot;, sans-serif" font-size="12" fill="#000">200</text>
<text x="120.4" y="562" text-anchor="start" font-family="&quot;Liberation Sans&quot;, sans-serif" font-size="12" fill="#000">600</text>
<text x="40.6" y="577" text-anchor="start" font-family="&quot;Liberation Sans&quot;, sans-serif" font-size="12" fill="#000">400</text>
<text x="120.4" y="577" text-anchor="start" font-family="&quot;Liberation Sans&quot;, sans-serif" font-size="12" fill="#000">1200</text>
<g transform="translate(250.4,531.2) scale(1.08,1)"><text x="0" y="0" text-anchor="end" font-family="&quot;Liberation Mono&quot;, monospace" font-size="11.2" fill="#000">8</text></g>
<g transform="translate(250.4,546.2) scale(1.08,1)"><text x="0" y="0" text-anchor="end" font-family="&quot;Liberation Mono&quot;, monospace" font-size="11.2" fill="#000">10<tspan font-size="7.2" dy="-5">600</tspan></text></g>
<g transform="translate(250.4,561.2) scale(1.08,1)"><text x="0" y="0" text-anchor="end" font-family="&quot;Liberation Mono&quot;, monospace" font-size="11.2" fill="#000">10<tspan font-size="7.2" dy="-5">1380</tspan></text></g>
<g transform="translate(250.4,576.2) scale(1.08,1)"><text x="0" y="0" text-anchor="end" font-family="&quot;Liberation Mono&quot;, monospace" font-size="11.2" fill="#000">10<tspan font-size="7.2" dy="-5">6967</tspan></text></g>
<text x="287.3" y="511.9" text-anchor="start" font-family="&quot;Liberation Sans&quot;, sans-serif" font-size="12" fill="#000"># customers</text>
<text x="511.1" y="511.9" text-anchor="end" font-family="&quot;Liberation Sans&quot;, sans-serif" font-size="12" fill="#000">search space</text>
<text x="295" y="532" text-anchor="start" font-family="&quot;Liberation Sans&quot;, sans-serif" font-size="12" fill="#000">4</text>
<text x="295" y="547" text-anchor="start" font-family="&quot;Liberation Sans&quot;, sans-serif" font-size="12" fill="#000">100</text>
<text x="295" y="562" text-anchor="start" font-family="&quot;Liberation Sans&quot;, sans-serif" font-size="12" fill="#000">1000</text>
<text x="295" y="577" text-anchor="start" font-family="&quot;Liberation Sans&quot;, sans-serif" font-size="12" fill="#000">10000</text>
<g transform="translate(505,531.2) scale(1.08,1)"><text x="0" y="0" text-anchor="end" font-family="&quot;Liberation Mono&quot;, monospace" font-size="11.2" fill="#000">24</text></g>
<g transform="translate(505,546.2) scale(1.08,1)"><text x="0" y="0" text-anchor="end" font-family="&quot;Liberation Mono&quot;, monospace" font-size="11.2" fill="#000">10<tspan font-size="7.2" dy="-5">157</tspan></text></g>
<g transform="translate(505,561.2) scale(1.08,1)"><text x="0" y="0" text-anchor="end" font-family="&quot;Liberation Mono&quot;, monospace" font-size="11.2" fill="#000">10<tspan font-size="7.2" dy="-5">2567</tspan></text></g>
<g transform="translate(505,576.2) scale(1.08,1)"><text x="0" y="0" text-anchor="end" font-family="&quot;Liberation Mono&quot;, monospace" font-size="11.2" fill="#000">10<tspan font-size="7.2" dy="-5">35659</tspan></text></g>
<text x="545.5" y="511.9" text-anchor="start" font-family="&quot;Liberation Sans&quot;, sans-serif" font-size="12" fill="#000"># periods</text>
<text x="603" y="511.9" text-anchor="start" font-family="&quot;Liberation Sans&quot;, sans-serif" font-size="12" fill="#000"># rooms</text>
<text x="654" y="511.9" text-anchor="start" font-family="&quot;Liberation Sans&quot;, sans-serif" font-size="12" fill="#000"># lectures</text>
<text x="760.6" y="511.9" text-anchor="end" font-family="&quot;Liberation Sans&quot;, sans-serif" font-size="12" fill="#000">space</text>
<text x="550.3" y="532" text-anchor="start" font-family="&quot;Liberation Sans&quot;, sans-serif" font-size="12" fill="#000">2</text>
<text x="610.1" y="532" text-anchor="start" font-family="&quot;Liberation Sans&quot;, sans-serif" font-size="12" fill="#000">2</text>
<text x="670.2" y="532" text-anchor="start" font-family="&quot;Liberation Sans&quot;, sans-serif" font-size="12" fill="#000">3</text>
<text x="550.3" y="547" text-anchor="start" font-family="&quot;Liberation Sans&quot;, sans-serif" font-size="12" fill="#000">36</text>
<text x="610.1" y="547" text-anchor="start" font-family="&quot;Liberation Sans&quot;, sans-serif" font-size="12" fill="#000">6</text>
<text x="670.2" y="547" text-anchor="start" font-family="&quot;Liberation Sans&quot;, sans-serif" font-size="12" fill="#000">100</text>
<text x="550.3" y="562" text-anchor="start" font-family="&quot;Liberation Sans&quot;, sans-serif" font-size="12" fill="#000">36</text>
<text x="610.1" y="562" text-anchor="start" font-family="&quot;Liberation Sans&quot;, sans-serif" font-size="12" fill="#000">18</text>
<text x="670.2" y="562" text-anchor="start" font-family="&quot;Liberation Sans&quot;, sans-serif" font-size="12" fill="#000">400</text>
<text x="550.3" y="577" text-anchor="start" font-family="&quot;Liberation Sans&quot;, sans-serif" font-size="12" fill="#000">36</text>
<text x="610.1" y="577" text-anchor="start" font-family="&quot;Liberation Sans&quot;, sans-serif" font-size="12" fill="#000">36</text>
<text x="670.2" y="577" text-anchor="start" font-family="&quot;Liberation Sans&quot;, sans-serif" font-size="12" fill="#000">800</text>
<g transform="translate(760,531.2) scale(1.08,1)"><text x="0" y="0" text-anchor="end" font-family="&quot;Liberation Mono&quot;, monospace" font-size="11.2" fill="#000">64</text></g>
<g transform="translate(760,546.2) scale(1.08,1)"><text x="0" y="0" text-anchor="end" font-family="&quot;Liberation Mono&quot;, monospace" font-size="11.2" fill="#000">10<tspan font-size="7.2" dy="-5">233</tspan></text></g>
<g transform="translate(760,561.2) scale(1.08,1)"><text x="0" y="0" text-anchor="end" font-family="&quot;Liberation Mono&quot;, monospace" font-size="11.2" fill="#000">10<tspan font-size="7.2" dy="-5">1124</tspan></text></g>
<g transform="translate(760,576.2) scale(1.08,1)"><text x="0" y="0" text-anchor="end" font-family="&quot;Liberation Mono&quot;, monospace" font-size="11.2" fill="#000">10<tspan font-size="7.2" dy="-5">2490</tspan></text></g>
</svg>
</body></html>
